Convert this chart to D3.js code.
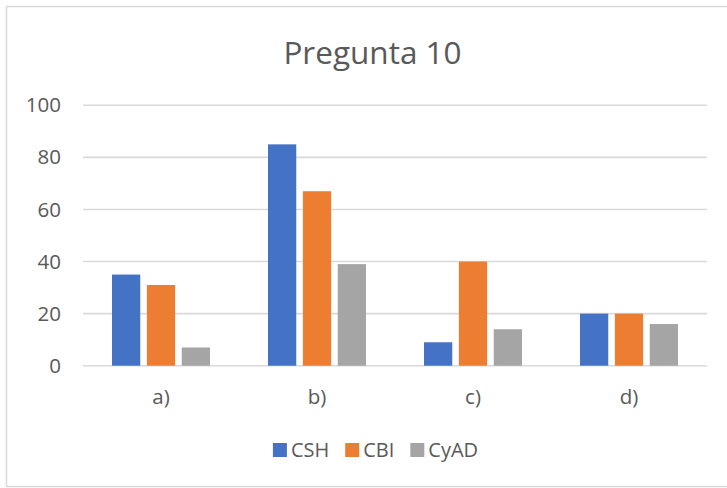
<!DOCTYPE html>
<html>
<head>
<meta charset="utf-8">
<script src="https://cdn.jsdelivr.net/npm/d3@7"></script>
<style>
  html, body { margin: 0; padding: 0; background: #fff; }
  svg { display: block; font-family: "Open Sans", sans-serif; }
</style>
</head>
<body>
<svg id="chart" width="727" height="488"></svg>
<script>
// Survey answers to question 10, by division
const categories = ["a)", "b)", "c)", "d)"];
const seriesNames = ["CSH", "CBI", "CyAD"];
const csh  = [35, 85, 9, 20];
const cbi  = [31, 67, 40, 20];
const cyad = [7, 39, 14, 16];
const yTicks = [0, 20, 40, 60, 80, 100];
const title = "Pregunta 10";

const seriesValues = [csh, cbi, cyad];
const colors = ["#4472C4", "#ED7D31", "#A5A5A5"];
const textColor = "#595959";
const gridColor = "#D9D9D9";

const svg = d3.select("#chart");
const W = 727, H = 488;
const plot = { left: 83, right: 707, top: 105.3, bottom: 365.7 };

// Outer chart frame (its right edge runs past the window)
svg.append("rect")
  .attr("x", 6.5).attr("y", 6.5)
  .attr("width", W + 10).attr("height", 480)
  .attr("fill", "#fff")
  .attr("stroke", gridColor).attr("stroke-width", 1.5);

// Title
svg.append("text")
  .attr("x", 372.5).attr("y", 64)
  .attr("text-anchor", "middle")
  .attr("font-size", 31.5)
  .attr("fill", textColor)
  .text(title);

const x0 = d3.scaleBand().domain(categories).range([plot.left, plot.right]);
const bw = x0.bandwidth();
const x1 = d3.scaleBand().domain(seriesNames)
  .range([bw * 0.186, bw * 0.814]).paddingInner(0.19);
const y = d3.scaleLinear().domain([0, 100]).range([plot.bottom, plot.top]);

// Gridlines
svg.append("g").selectAll("line")
  .data(yTicks)
  .join("line")
  .attr("x1", plot.left).attr("x2", plot.right)
  .attr("y1", d => y(d)).attr("y2", d => y(d))
  .attr("stroke", gridColor).attr("stroke-width", 1.6);

// Y axis labels
const yAxis = d3.axisLeft(y).tickValues(yTicks).tickSize(0).tickPadding(0);
const gy = svg.append("g").attr("transform", `translate(61,0)`).call(yAxis);
gy.select(".domain").remove();
gy.selectAll("text")
  .attr("font-family", "Open Sans, sans-serif")
  .attr("font-size", 20.5).attr("fill", textColor);

// X axis labels
const xAxis = d3.axisBottom(x0).tickSize(0).tickPadding(0);
const gx = svg.append("g").attr("transform", `translate(0,389)`).call(xAxis);
gx.select(".domain").remove();
gx.selectAll("text")
  .attr("font-family", "Open Sans, sans-serif")
  .attr("font-size", 20.5).attr("fill", textColor);

// Bars
const groups = svg.append("g").selectAll("g")
  .data(categories)
  .join("g")
  .attr("transform", d => `translate(${x0(d)},0)`);

groups.selectAll("rect")
  .data((c, i) => seriesNames.map((s, k) => ({ s, k, v: seriesValues[k][i] })))
  .join("rect")
  .attr("x", d => x1(d.s))
  .attr("width", x1.bandwidth())
  .attr("y", d => y(d.v))
  .attr("height", d => y(0) - y(d.v))
  .attr("fill", d => colors[d.k]);

// Legend
const legend = svg.append("g");
const items = legend.selectAll("g")
  .data(seriesNames)
  .join("g");
items.append("rect")
  .attr("width", 14).attr("height", 14)
  .attr("y", 443)
  .attr("fill", (d, i) => colors[i]);
items.append("text")
  .attr("x", 18).attr("y", 457)
  .attr("font-size", 20)
  .attr("fill", textColor)
  .text(d => d);

let cursor = 0;
const offsets = [];
items.each(function () {
  offsets.push(cursor);
  const tw = d3.select(this).select("text").node().getComputedTextLength();
  cursor += 18 + tw + 16;
});
const total = cursor - 16;
const startX = 375.5 - total / 2;
items.attr("transform", (d, i) => `translate(${startX + offsets[i]},0)`);
</script>
</body>
</html>
